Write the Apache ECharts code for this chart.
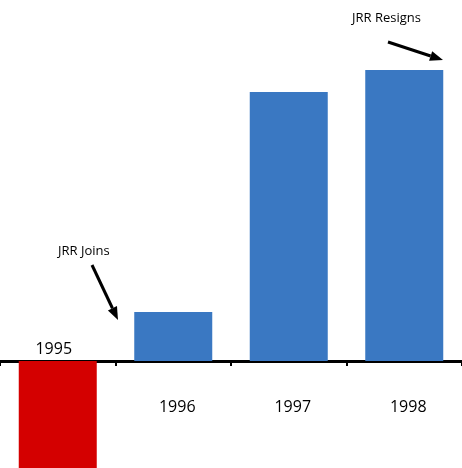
<!DOCTYPE html>
<html>
<head>
<meta charset="utf-8">
<script src="https://cdn.jsdelivr.net/npm/echarts@6/dist/echarts.min.js"></script>
<style>html,body{margin:0;padding:0;background:#fff}#c{width:462px;height:468px}</style>
</head>
<body>
<div id="c"></div>
<script>
let years = ['1995', '1996', '1997', '1998']
let values = [-120, 49, 269, 291]
let barColors = ['#d40000', '#3a78c2', '#3a78c2', '#3a78c2']
let notes = [
	{ text: 'JRR Joins', cat: '1996', tx: 58, ty: 245, from: [92, 265], to: [118, 320] },
	{ text: 'JRR Resigns', cat: '1998', tx: 352, ty: 12, from: [388, 42], to: [443, 60] }
]

let chart = echarts.init(document.getElementById('c'))
chart.setOption({
	animation: false,
	grid: { left: 0, right: 0, top: 0, bottom: 0 },
	xAxis: {
		type: 'category',
		data: years,
		axisLine: { onZero: true, lineStyle: { color: '#000', width: 3 } },
		axisTick: { show: true, alignWithLabel: false, length: 5, inside: false, lineStyle: { color: '#000', width: 2 } },
		axisLabel: { show: false }
	},
	yAxis: {
		type: 'value', min: -107, max: 361, show: false, splitLine: { show: false }
	},
	series: [{
		type: 'bar',
		barWidth: 78,
		data: values.map((v, i) => ({ value: v, itemStyle: { color: barColors[i] } }))
	}]
})

// year labels and annotations
let g = []
years.forEach((y, i) => {
	let p = chart.convertToPixel({ seriesIndex: 0 }, [i, 0])
	let top = i == 0 ? p[1] - 20 : p[1] + 38
	g.push({ type: 'text', x: p[0] + (i == 0 ? -4 : 4), y: top,
		style: { text: y, fill: '#000', font: '16px "Open Sans", sans-serif', align: 'center' } })
})
notes.forEach(n => {
	g.push({ type: 'text', x: n.tx, y: n.ty, style: { text: n.text, fill: '#000', font: '13px "Open Sans", sans-serif' } })
	let dx = n.to[0] - n.from[0], dy = n.to[1] - n.from[1]
	let len = Math.sqrt(dx * dx + dy * dy), ux = dx / len, uy = dy / len
	let hl = 13, hw = 5
	let bx = n.to[0] - ux * hl, by = n.to[1] - uy * hl
	g.push({ type: 'line', shape: { x1: n.from[0], y1: n.from[1], x2: bx, y2: by }, style: { stroke: '#000', lineWidth: 3 } })
	g.push({ type: 'polygon', shape: { points: [n.to, [bx - uy * hw, by + ux * hw], [bx + uy * hw, by - ux * hw]] }, style: { fill: '#000' } })
})
chart.setOption({ graphic: g })
</script>
</body>
</html>
